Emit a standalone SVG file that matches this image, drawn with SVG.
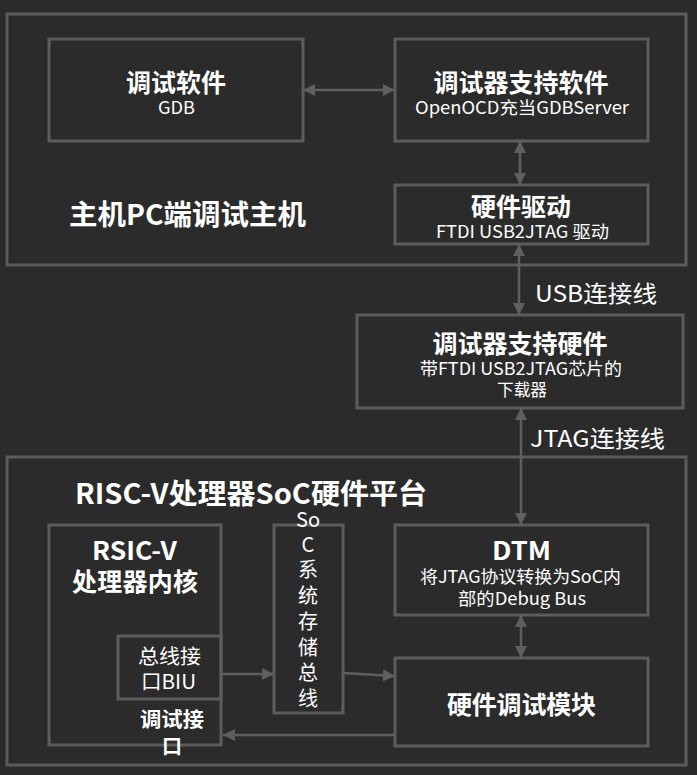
<svg xmlns="http://www.w3.org/2000/svg" width="697" height="775" viewBox="0 0 697 775">
<style>
.box{fill:none;stroke:#5c5c5c;stroke-width:3}
.con{fill:none;stroke:#5f5f5f;stroke-width:2.5}
text{font-family:"Noto Sans CJK SC","Noto Sans",sans-serif;fill:#ffffff;text-anchor:middle;dominant-baseline:central}
.t{font-size:25px;font-weight:bold}
.big{font-size:28px;font-weight:bold}
.s{font-size:17.500px}
.m{font-size:20px}
.lbl{font-size:23px;text-anchor:start}
</style>
<defs>
<marker id="ah" viewBox="0 0 12 12" refX="12" refY="6" markerWidth="12" markerHeight="12" markerUnits="userSpaceOnUse" orient="auto-start-reverse">
<path d="M0,0 L12,6 L0,12 z" fill="#5f5f5f"/>
</marker>
</defs>
<rect width="697" height="775" fill="#2b2b2b"/>
<g id="host">
<rect class="box" x="7" y="14" width="679" height="251"/>
<text class="big" x="187.500" y="213" textLength="237" lengthAdjust="spacingAndGlyphs">主机PC端调试主机</text>
</g>
<g id="gdb">
<rect class="box" x="49" y="39" width="254" height="102"/>
<text class="t" x="176" y="81" textLength="100">调试软件</text>
<text class="s" x="176.500" y="106" textLength="37" lengthAdjust="spacingAndGlyphs">GDB</text>
</g>
<g id="openocd">
<rect class="box" x="395" y="39" width="253" height="102"/>
<text class="t" x="521" y="81" textLength="175">调试器支持软件</text>
<text class="s" x="522" y="106" textLength="214" lengthAdjust="spacingAndGlyphs">OpenOCD充当GDBServer</text>
</g>
<g id="driver">
<rect class="box" x="395" y="185" width="253" height="59"/>
<text class="t" x="521" y="205" textLength="100">硬件驱动</text>
<text class="s" x="522.500" y="230" textLength="173" lengthAdjust="spacingAndGlyphs">FTDI USB2JTAG 驱动</text>
</g>
<g id="hw">
<rect class="box" x="357" y="315" width="326" height="93"/>
<text class="t" x="520" y="342" textLength="175">调试器支持硬件</text>
<text class="s" x="521" y="367" textLength="202" lengthAdjust="spacingAndGlyphs">带FTDI USB2JTAG芯片的</text>
<text class="s" x="522" y="388" textLength="50" lengthAdjust="spacingAndGlyphs">下载器</text>
</g>
<g id="soc">
<rect class="box" x="7" y="457" width="679" height="308"/>
<text class="big" x="251" y="492" textLength="352" lengthAdjust="spacingAndGlyphs">RISC-V处理器SoC硬件平台</text>
</g>
<g id="core">
<rect class="box" x="49" y="525" width="172" height="220"/>
<text class="t" x="134.500" y="549" textLength="85" lengthAdjust="spacingAndGlyphs">RSIC-V</text>
<text class="t" x="135" y="580" textLength="126">处理器内核</text>
<text class="m" x="172" y="718" font-weight="bold" textLength="64" lengthAdjust="spacingAndGlyphs">调试接</text>
<text class="m" x="172" y="745" font-weight="bold">口</text>
</g>
<g id="biu">
<rect class="box" x="118" y="636" width="103" height="63"/>
<text class="m" x="169.500" y="655" textLength="63" lengthAdjust="spacingAndGlyphs">总线接</text>
<text class="m" x="168.500" y="680" textLength="55" lengthAdjust="spacingAndGlyphs">口BIU</text>
</g>
<g id="bus">
<rect class="box" x="274" y="525" width="69" height="188"/>
<text class="m" x="308" y="518">So</text>
<text class="m" x="308" y="543">C</text>
<text class="m" x="308" y="568">系</text>
<text class="m" x="308" y="594">统</text>
<text class="m" x="308" y="620">存</text>
<text class="m" x="308" y="646">储</text>
<text class="m" x="308" y="671">总</text>
<text class="m" x="308" y="697">线</text>
</g>
<g id="dtm">
<rect class="box" x="395" y="525" width="253" height="90"/>
<text class="t" x="521.500" y="549" textLength="59" lengthAdjust="spacingAndGlyphs">DTM</text>
<text class="s" x="520.500" y="575" textLength="201" lengthAdjust="spacingAndGlyphs">将JTAG协议转换为SoC内</text>
<text class="s" x="522" y="597" textLength="128" lengthAdjust="spacingAndGlyphs">部的Debug Bus</text>
</g>
<g id="debugmod">
<rect class="box" x="395" y="658" width="253" height="88"/>
<text class="t" x="521.500" y="703" textLength="149">硬件调试模块</text>
</g>
<g id="connectors">
<path class="con" d="M303,90 L395,90" marker-start="url(#ah)" marker-end="url(#ah)"/>
<path class="con" d="M520,141 L520,185" marker-start="url(#ah)" marker-end="url(#ah)"/>
<path class="con" d="M519,244 L519,315" marker-start="url(#ah)" marker-end="url(#ah)"/>
<path class="con" d="M521,408 L521,525" marker-start="url(#ah)" marker-end="url(#ah)"/>
<path class="con" d="M521,615 L521,658" marker-start="url(#ah)" marker-end="url(#ah)"/>
<path class="con" d="M222,674 L274,674" marker-end="url(#ah)"/>
<path class="con" d="M343,673 L395,676" marker-end="url(#ah)"/>
<path class="con" d="M395,735 L223,735" marker-end="url(#ah)"/>
<text class="lbl" x="535" y="292" textLength="122" lengthAdjust="spacingAndGlyphs">USB连接线</text>
<text class="lbl" x="530" y="437" textLength="135" lengthAdjust="spacingAndGlyphs">JTAG连接线</text>
</g>
</svg>
